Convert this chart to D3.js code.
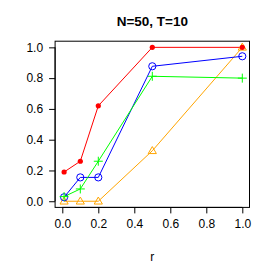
<!DOCTYPE html>
<html><head><meta charset="utf-8">
<script src="https://cdn.jsdelivr.net/npm/d3@7"></script>
<style>body{margin:0;background:#fff}svg{display:block}text{font-family:"Liberation Sans",Arial,sans-serif;fill:#000}</style>
</head><body><div id="chart"></div>
<script>
const title = "N=50, T=10";
const xLabel = "r";
const rValues = [0.01, 0.1, 0.2, 0.5, 1.0];
const redSeries = [0.19, 0.26, 0.62, 1.0, 1.0];
const blueSeries = [0.026, 0.155, 0.155, 0.877, 0.942];
const greenSeries = [0.03, 0.08, 0.26, 0.812, 0.80];
const orangeSeries = [0.0, 0.0, 0.0, 0.328, 1.0];
const xTicks = [0, 0.2, 0.4, 0.6, 0.8, 1.0];
const yTicks = [0, 0.2, 0.4, 0.6, 0.8, 1.0];

const W = 277, H = 277;
const svg = d3.select("#chart").append("svg").attr("width", W).attr("height", H);
const x = d3.scaleLinear().domain([-0.04, 1.04]).range([55.1, 249.5]);
const y = d3.scaleLinear().domain([-0.04, 1.04]).range([207.4, 41.2]);

svg.append("text").attr("x", (55.1 + 249.5) / 2).attr("y", 26).attr("text-anchor", "middle")
  .style("font-weight", "bold").style("font-size", "13.5px").text(title);

// box
svg.append("rect").attr("x", x(-0.04)).attr("y", y(1.04)).attr("width", x(1.04) - x(-0.04))
  .attr("height", y(-0.04) - y(1.04)).attr("fill", "none").attr("stroke", "#000").attr("stroke-width", 1);

const xAxis = d3.axisBottom(x).tickValues(xTicks).tickFormat(d3.format(".1f")).tickSize(6).tickPadding(6);
const gx = svg.append("g").attr("transform", `translate(0,${y(-0.04)})`).call(xAxis);
gx.select(".domain").attr("d", `M${x(0)},0H${x(1)}`);
const yAxis = d3.axisLeft(y).tickValues(yTicks).tickFormat(d3.format(".1f")).tickSize(6).tickPadding(6);
const gy = svg.append("g").attr("transform", `translate(${x(-0.04)},0)`).call(yAxis);
gy.select(".domain").attr("d", `M0,${y(0)}V${y(1)}`);
svg.selectAll(".tick text").style("font-size", "12px").attr("font-family", null);
svg.selectAll(".tick line, .domain").attr("stroke", "#000");

svg.append("text").attr("x", (55.1 + 249.5) / 2).attr("y", 261).attr("text-anchor", "middle")
  .style("font-size", "12px").text(xLabel);

const line = d3.line().x((d, i) => x(rValues[i])).y(d => y(d));
function drawLine(data, color) {
  svg.append("path").datum(data).attr("d", line).attr("fill", "none").attr("stroke", color).attr("stroke-width", 1);
}
const series = [
  {data: orangeSeries, color: "#FFA500", shape: "tri"},
  {data: blueSeries, color: "#0000FF", shape: "circle"},
  {data: greenSeries, color: "#00FF00", shape: "plus"},
  {data: redSeries, color: "#FF0000", shape: "dot"}
];
series.forEach(s => drawLine(s.data, s.color));
series.forEach(s => {
  const g = svg.append("g");
  s.data.forEach((v, i) => {
    const cx = x(rValues[i]), cy = y(v);
    if (s.shape === "dot") {
      g.append("circle").attr("cx", cx).attr("cy", cy).attr("r", 2.6).attr("fill", s.color);
    } else if (s.shape === "circle") {
      g.append("circle").attr("cx", cx).attr("cy", cy).attr("r", 3.6).attr("fill", "none").attr("stroke", s.color).attr("stroke-width", 1);
    } else if (s.shape === "plus") {
      g.append("path").attr("d", `M${cx-4.5},${cy}H${cx+4.5}M${cx},${cy-4.5}V${cy+4.5}`).attr("stroke", s.color).attr("stroke-width", 1);
    } else {
      g.append("path").attr("d", `M${cx},${cy - 4.2}L${cx + 4.1},${cy + 2.8}L${cx - 4.1},${cy + 2.8}Z`)
        .attr("fill", "none").attr("stroke", s.color).attr("stroke-width", 1);
    }
  });
});
</script></body></html>
